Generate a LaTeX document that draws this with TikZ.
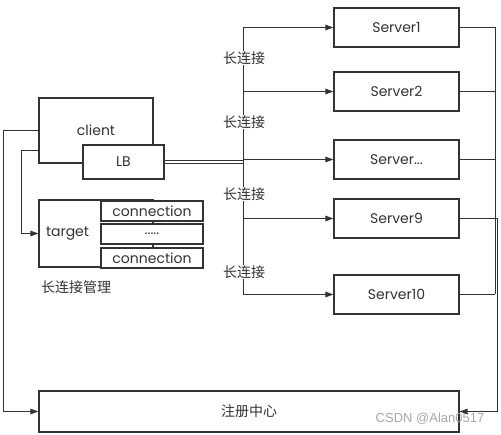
\documentclass[tikz,border=0pt]{standalone}
\usepackage{fontspec}
\setmainfont{Poppins}
\newfontfamily\cjk{Noto Sans CJK SC}
\newfontfamily\wmfont{Liberation Sans}
\usepackage{tikz}
\definecolor{lgray}{HTML}{333333}
\definecolor{wmgray}{HTML}{A8A8A8}
\usetikzlibrary{arrows.meta, positioning}
\tikzset{
	box/.style={draw=lgray, fill=white, line width=1.1pt, inner sep=0pt,
		font=\fontsize{14}{16}\selectfont, text=lgray},
	srv/.style={box, minimum width=125pt, minimum height=39pt},
	conn/.style={box, minimum width=102pt, minimum height=20pt},
	lbl/.style={font=\cjk\fontsize{14}{16}\selectfont, text=lgray, inner sep=1pt},
	link/.style={draw=lgray, line width=1pt},
	arr/.style={link, -{Triangle[length=8pt, width=5.5pt]}}
}

\begin{document}
\begin{tikzpicture}[x=1pt, y=-1pt]
	\useasboundingbox (0,0) rectangle (501,435);
	% client side
	\node[box, minimum width=114pt, minimum height=65pt] (client) at (96,130.5) {client};
	\node[box, minimum width=81pt, minimum height=34pt] (lb) at (123.5,162) {LB};
	\node[box, minimum width=114pt, minimum height=67pt] (pool) at (96,233.5) {};
	\node[box, draw=none, fill=none, anchor=west] (target) at ([xshift=7pt]pool.west) {target};
	\node[conn] (c1) at (152,211) {connection};
	\node[conn] (c2) at (152,234) {.....};
	\node[conn] (c3) at (152,258) {connection};
	\node[lbl, anchor=west] (mgr) at (40,287) {长连接管理};
	% servers
	\node[srv] (s1) at (396.5,27.5) {Server1};
	\node[srv] (s2) at (396.5,91.5) {Server2};
	\node[srv] (s3) at (396.5,159.5) {Server...};
	\node[srv] (s9) at (396.5,218.5) {Server9};
	\node[srv] (s10) at (396.5,294.5) {Server10};
	\node[box, minimum width=420pt, minimum height=41pt, font=\cjk\fontsize{14}{16}\selectfont] (reg) at (249,411.5) {注册中心};
	\node[font=\wmfont\fontsize{13}{15}\selectfont, text=wmgray, inner sep=0pt] (wm) at (430,419) {CSDN @Alan0517};
	% long connections
	\coordinate (trunk) at (243,0);
	\coordinate (bus) at (495,0);
	\draw[link] (trunk |- s1.west) -- (trunk |- s10.west);
	\foreach \s in {s1,s2,s3,s9,s10}
		\draw[arr] (trunk |- \s.west) -- (\s.west);
	\draw[link, double=white, double distance=1.4pt] (lb.east) -- (trunk |- lb.east);
	\node[lbl, fill=white] (k1) at (244,58) {长连接};
	\node[lbl, fill=white] (k2) at (244,122) {长连接};
	\node[lbl, fill=white] (k3) at (244,194) {长连接};
	\node[lbl, fill=white] (k4) at (244,272) {长连接};
	% registry
	\draw[link] (bus |- s1.east) -- (bus |- s10.east);
	\foreach \s in {s1,s2,s3,s10}
		\draw[link] (\s.east) -- (bus |- \s.east);
	\draw[arr, line width=1.3pt] (s9.east) -- ++(38,0) |- (reg.east);
	\draw[arr] (client.west) -- ++(-35,0) |- (reg.west);
	\draw[arr] ([yshift=-20.5pt]client.west) -- ++(-17,0) |- (pool.west);
\end{tikzpicture}
\end{document}
